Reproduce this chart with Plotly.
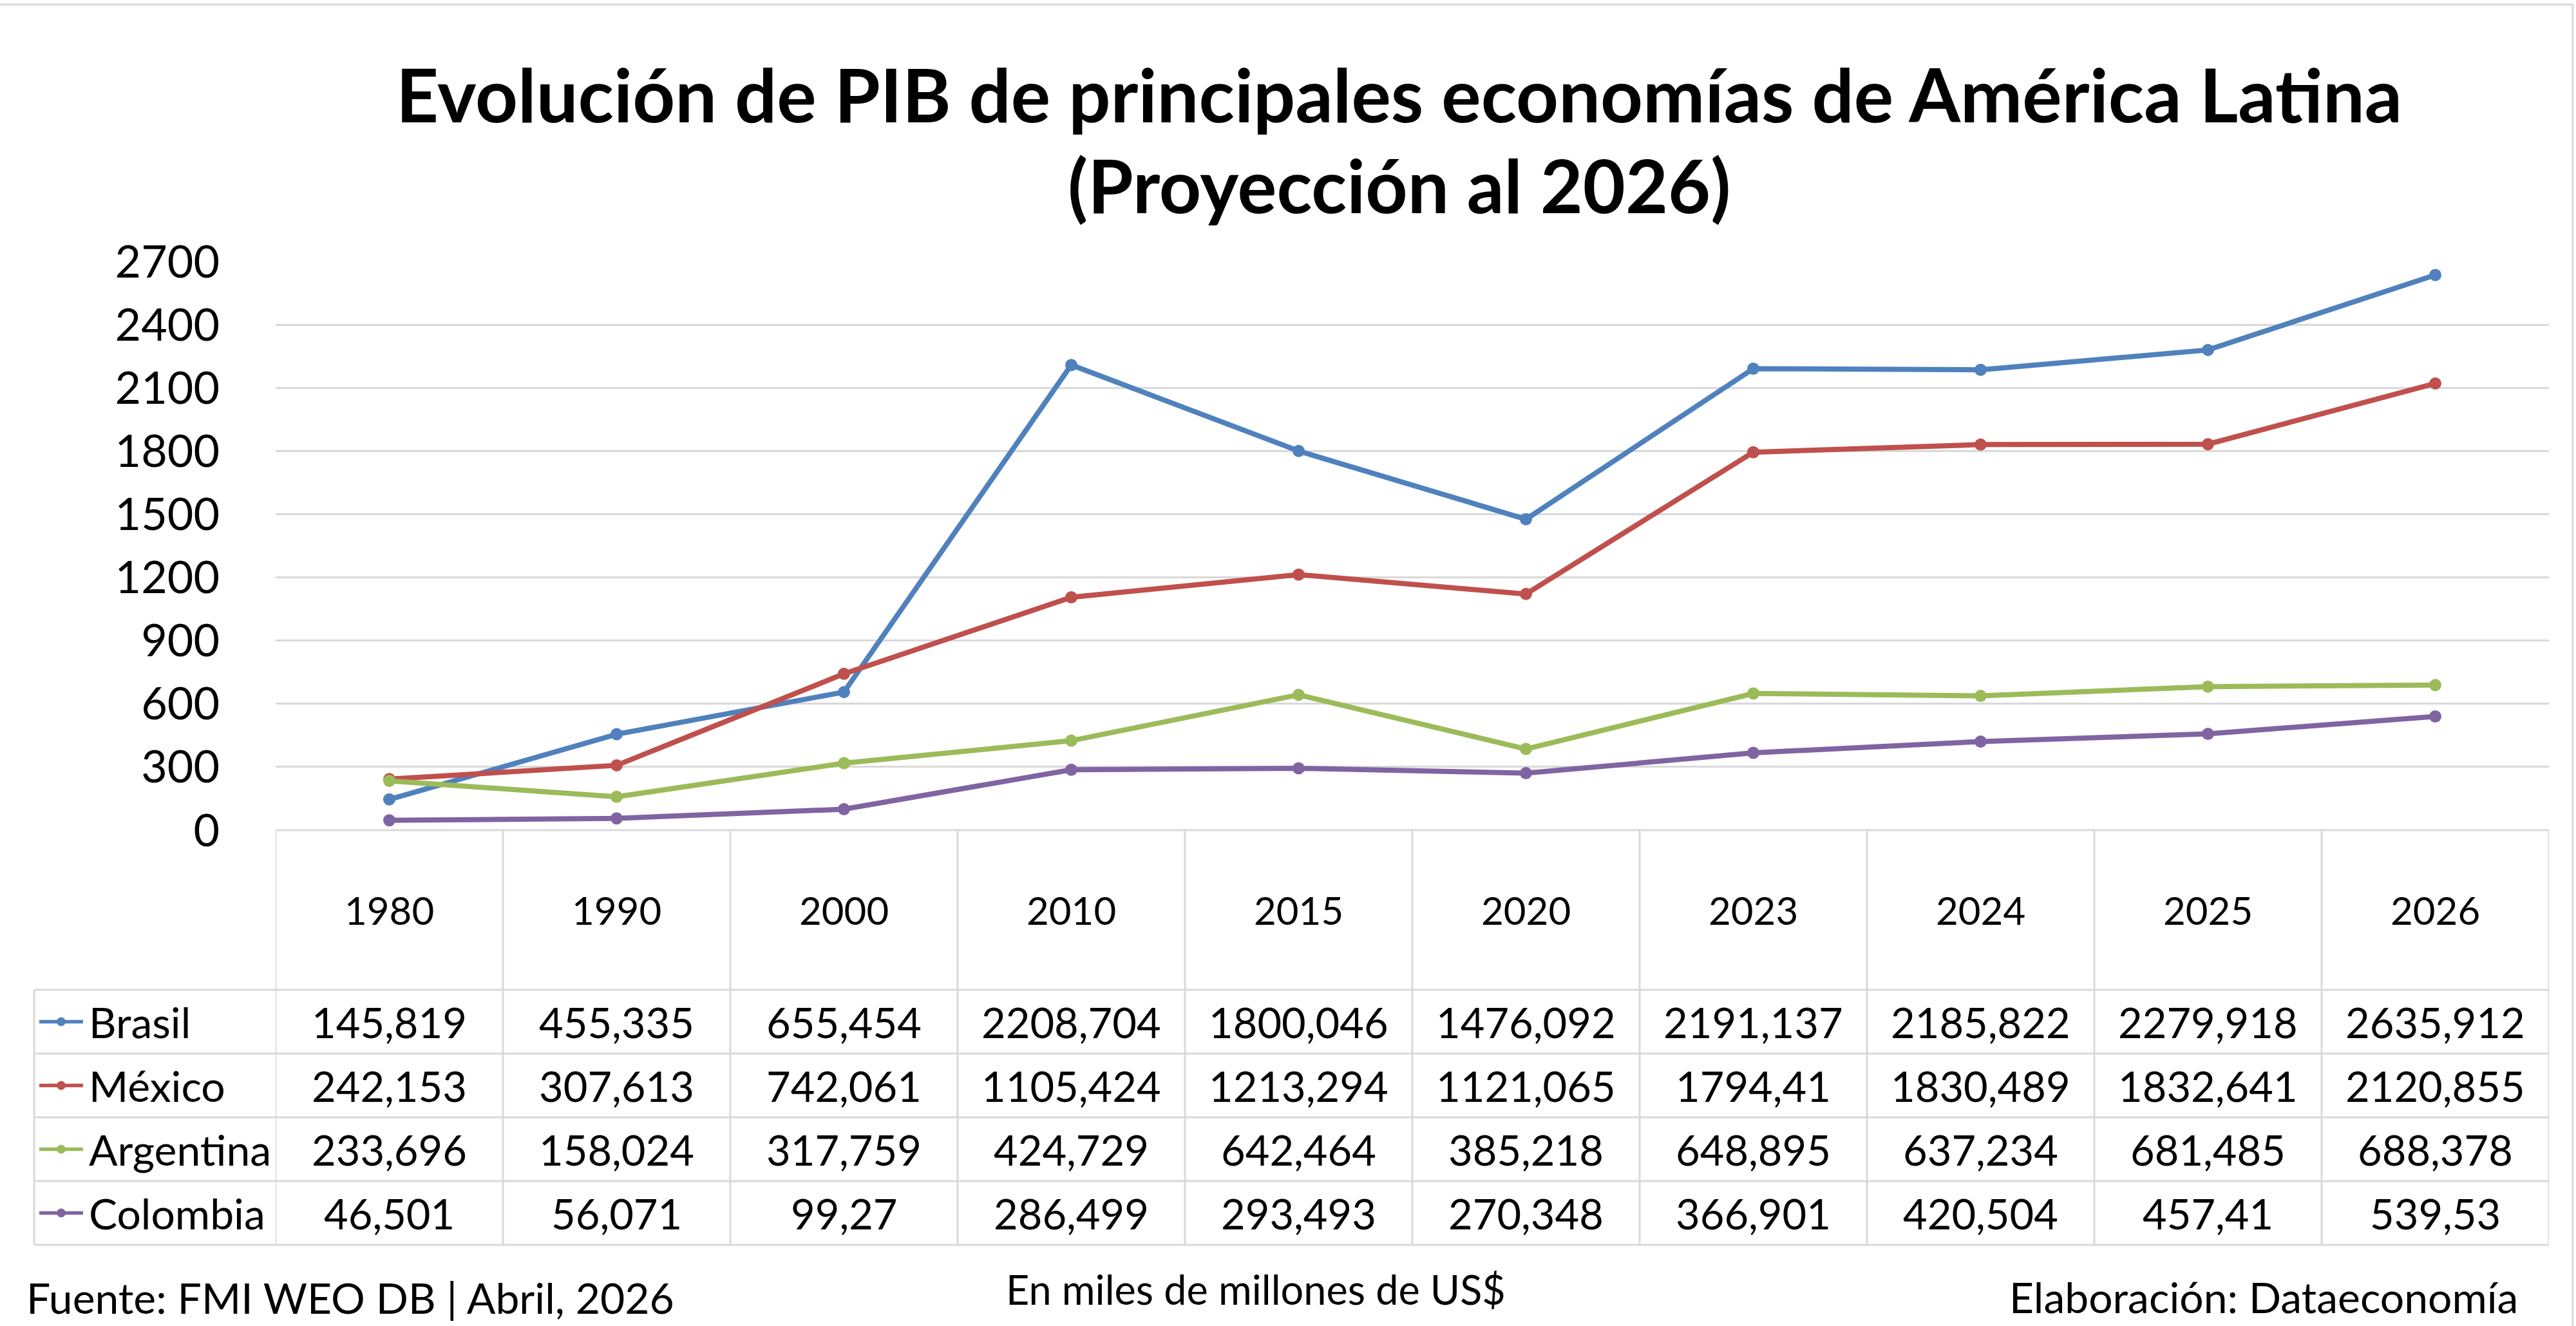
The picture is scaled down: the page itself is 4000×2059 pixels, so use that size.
import plotly.graph_objects as go

# lienzo en pixeles (margenes 0 => coordenadas paper = pixel / tamaño)
W, H = 4000, 2059

years = ['1980', '1990', '2000', '2010', '2015', '2020', '2023', '2024', '2025', '2026']
brasil = [145.819, 455.335, 655.454, 2208.704, 1800.046, 1476.092, 2191.137, 2185.822, 2279.918, 2635.912]
mexico = [242.153, 307.613, 742.061, 1105.424, 1213.294, 1121.065, 1794.41, 1830.489, 1832.641, 2120.855]
argentina = [233.696, 158.024, 317.759, 424.729, 642.464, 385.218, 648.895, 637.234, 681.485, 688.378]
colombia = [46.501, 56.071, 99.27, 286.499, 293.493, 270.348, 366.901, 420.504, 457.41, 539.53]
paises = ['Brasil', 'México', 'Argentina', 'Colombia']
series = [brasil, mexico, argentina, colombia]
colores = ['#4F81BD', '#C0504D', '#9BBB59', '#8064A2']

FONT = 'Lato, Open Sans, sans-serif'
GRID = '#D9D9D9'


def px(x):
    return x / W


def py(y):
    return 1 - y / H


# posiciones de la tabla (pixeles)
X_TAB0, X_PLOT0, X_PLOT1 = 53, 428, 3958
Y_AX0, Y_AX1 = 1289, 406
Y_HDR_BOT = 1537
ROW_H = 99
row_y = [Y_HDR_BOT + ROW_H * (i + 0.5) for i in range(4)]


def fmt(v):
    return repr(v).replace('.', ',')


fig = go.Figure()
for name, vals, col in zip(paises, series, colores):
    fig.add_trace(go.Scatter(x=years, y=vals, mode='lines+markers', name=name,
                             line=dict(color=col, width=8),
                             marker=dict(color=col, size=19), showlegend=False))

shapes = []
line = dict(color=GRID, width=3)
# borde del grafico
shapes.append(dict(type='rect', xref='paper', yref='paper', x0=px(-10), x1=px(3995),
                   y0=py(2080), y1=py(7), line=line))
# lineas horizontales de la tabla
for y in [Y_HDR_BOT + ROW_H * i for i in range(5)]:
    shapes.append(dict(type='line', xref='paper', yref='paper', x0=px(X_TAB0), x1=px(X_PLOT1),
                       y0=py(y), y1=py(y), line=line))
shapes.append(dict(type='line', xref='x', yref='paper', x0=-0.5, x1=len(years) - 0.5,
                   y0=py(Y_AX0), y1=py(Y_AX0), line=line))
# verticales
for k in range(len(years) + 1):
    shapes.append(dict(type='line', xref='x', yref='paper', x0=k - 0.5, x1=k - 0.5,
                       y0=py(Y_AX0), y1=py(Y_HDR_BOT + 4 * ROW_H), line=line))
shapes.append(dict(type='line', xref='paper', yref='paper', x0=px(X_TAB0), x1=px(X_TAB0),
                   y0=py(Y_HDR_BOT), y1=py(Y_HDR_BOT + 4 * ROW_H), line=line))
# claves de leyenda
for ry, col in zip(row_y, colores):
    shapes.append(dict(type='line', xref='paper', yref='paper', x0=px(61), x1=px(129),
                       y0=py(ry), y1=py(ry), line=dict(color=col, width=5.5)))
    shapes.append(dict(type='circle', xref='paper', yref='paper', x0=px(88.5), x1=px(101.5),
                       y0=py(ry + 6.5), y1=py(ry - 6.5), fillcolor=col, line=dict(color=col, width=1)))


def txt(x, y, text, size, xref='paper', xanchor='center', bold=False):
    if bold:
        text = '<b>%s</b>' % text
    return dict(x=x, y=y, xref=xref, yref='paper', text=text, showarrow=False,
                xanchor=xanchor, yanchor='middle', font=dict(size=size))


ann = []
ann.append(txt(px(2172), py(145), 'Evolución de PIB de principales economías de América Latina', 115, bold=True))
ann.append(txt(px(2172), py(286), '(Proyección al 2026)', 114, bold=True))
for i, yr in enumerate(years):
    ann.append(txt(i, py(1413), yr, 60, xref='x'))
for ry, name, vals in zip(row_y, paises, series):
    ann.append(txt(px(136), py(ry), name, 66, xanchor='left'))
    for i, v in enumerate(vals):
        ann.append(txt(i, py(ry), fmt(v), 65, xref='x'))
ann.append(txt(px(39), py(2014), 'Fuente: FMI WEO DB | Abril, 2026', 66, xanchor='left'))
ann.append(txt(px(1950), py(2001), 'En miles de millones de US$', 63))
ann.append(txt(px(3912), py(2013), 'Elaboración: Dataeconomía', 66, xanchor='right'))

fig.update_layout(
    width=W, height=H,
    margin=dict(l=0, r=0, t=0, b=0, autoexpand=False),
    paper_bgcolor='white', plot_bgcolor='white',
    font=dict(family=FONT, color='black'),
    xaxis=dict(type='category', range=[-0.5, len(years) - 0.5], domain=[px(X_PLOT0), px(X_PLOT1)],
               showticklabels=False, showgrid=False, zeroline=False, showline=False, ticks='',
               automargin=False),
    yaxis=dict(range=[0, 2700], dtick=300, domain=[py(Y_AX0), py(Y_AX1)],
               showgrid=True, gridcolor=GRID, gridwidth=3, zeroline=False, showline=False,
               ticks='outside', ticklen=72, tickcolor='rgba(0,0,0,0)',
               tickfont=dict(size=70), automargin=False),
    shapes=shapes,
    annotations=ann,
)
# sin margen del body para que el grafico ocupe la ventana exacta
fig.write_html('out.html', config={'displayModeBar': False},
               post_script="document.body.style.margin='0';")
